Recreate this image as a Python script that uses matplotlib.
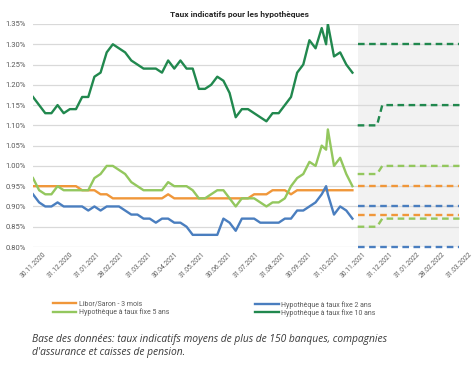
import matplotlib as mpl
mpl.use('Agg')
import matplotlib.pyplot as plt
import matplotlib.dates as mdates
from matplotlib.ticker import FuncFormatter, MultipleLocator
import pandas as pd

# Weekly observations (Mondays) plus one extra point on 30.10.2021
dates = (list(pd.date_range('2020-11-30', periods=48, freq='7D'))
         + [pd.Timestamp('2021-10-30')]
         + list(pd.date_range('2021-11-01', periods=5, freq='7D')))

libor = [0.95, 0.95, 0.95, 0.95, 0.95, 0.95, 0.95, 0.95, 0.94, 0.94,
         0.94, 0.93, 0.93, 0.92, 0.92, 0.92, 0.92, 0.92, 0.92, 0.92,
         0.92, 0.92, 0.93, 0.92, 0.92, 0.92, 0.92, 0.92, 0.92, 0.92,
         0.92, 0.92, 0.92, 0.92, 0.92, 0.92, 0.93, 0.93, 0.93, 0.94,
         0.94, 0.94, 0.93, 0.94, 0.94, 0.94, 0.94, 0.94, 0.94, 0.94,
         0.94, 0.94, 0.94, 0.94]
fix2 = [0.93, 0.91, 0.90, 0.90, 0.91, 0.90, 0.90, 0.90, 0.90, 0.89,
        0.90, 0.89, 0.90, 0.90, 0.90, 0.89, 0.88, 0.88, 0.87, 0.87,
        0.86, 0.87, 0.87, 0.86, 0.86, 0.85, 0.83, 0.83, 0.83, 0.83,
        0.83, 0.87, 0.86, 0.84, 0.87, 0.87, 0.87, 0.86, 0.86, 0.86,
        0.86, 0.87, 0.87, 0.89, 0.89, 0.90, 0.91, 0.93, 0.95, 0.93,
        0.88, 0.90, 0.89, 0.87]
fix5 = [0.97, 0.94, 0.93, 0.93, 0.95, 0.94, 0.94, 0.94, 0.94, 0.94,
        0.97, 0.98, 1.00, 1.00, 0.99, 0.98, 0.96, 0.95, 0.94, 0.94,
        0.94, 0.94, 0.96, 0.95, 0.95, 0.95, 0.94, 0.92, 0.92, 0.93,
        0.94, 0.94, 0.92, 0.90, 0.92, 0.92, 0.92, 0.91, 0.90, 0.91,
        0.91, 0.92, 0.95, 0.97, 0.98, 1.01, 1.00, 1.05, 1.04, 1.09,
        1.00, 1.02, 0.98, 0.95]
fix10 = [1.17, 1.15, 1.13, 1.13, 1.15, 1.13, 1.14, 1.14, 1.17, 1.17,
         1.22, 1.23, 1.28, 1.30, 1.29, 1.28, 1.26, 1.25, 1.24, 1.24,
         1.24, 1.23, 1.26, 1.24, 1.26, 1.24, 1.24, 1.19, 1.19, 1.20,
         1.22, 1.21, 1.18, 1.12, 1.14, 1.14, 1.13, 1.12, 1.11, 1.13,
         1.13, 1.15, 1.17, 1.23, 1.25, 1.31, 1.29, 1.34, 1.30, 1.35,
         1.27, 1.28, 1.25, 1.23]

# Forecast scenarios (dashed, shaded period)
fc_flat = pd.to_datetime(['2021-12-05', '2022-03-31'])
fc_step = pd.to_datetime(['2021-12-05', '2021-12-27', '2022-01-02', '2022-03-31'])
libor_hi, libor_lo = [0.95, 0.95], [0.88, 0.88]
fix2_hi, fix2_lo = [0.90, 0.90], [0.80, 0.80]
fix5_hi, fix5_lo = [0.98, 0.98, 1.00, 1.00], [0.85, 0.85, 0.87, 0.87]
fix10_hi, fix10_lo = [1.30, 1.30], [1.10, 1.10, 1.15, 1.15]

labels = ['Libor/Saron - 3 mois', 'Hypothèque à taux fixe 2 ans',
          'Hypothèque à taux fixe 5 ans', 'Hypothèque à taux fixe 10 ans']
colors = ['#F0973A', '#4A7EBF', '#93C75E', '#21884E']

plt.rcParams['font.family'] = ['Roboto', 'DejaVu Sans']

fig = plt.figure(figsize=(4.74, 3.69), dpi=100)
ax = fig.add_axes([0.0696, 0.3306, 0.8998, 0.6044])

ax.axvspan(pd.Timestamp('2021-12-05'), pd.Timestamp('2022-03-31'),
           color='#F2F2F2', lw=0, zorder=0)

lines = []
for y, c in zip([libor, fix2, fix5, fix10], colors):
    ln, = ax.plot(dates, y, color=c, lw=1.7, zorder=3)
    lines.append(ln)

dash = dict(lw=1.7, dashes=(2.8, 1.9), clip_on=False, zorder=3)
ax.plot(fc_flat, libor_hi, color=colors[0], **dash)
ax.plot(fc_flat, libor_lo, color=colors[0], **dash)
ax.plot(fc_flat, fix2_hi, color=colors[1], **dash)
ax.plot(fc_flat, fix2_lo, color=colors[1], **dash)
ax.plot(fc_step, fix5_hi, color=colors[2], **dash)
ax.plot(fc_step, fix5_lo, color=colors[2], **dash)
ax.plot(fc_flat, fix10_hi, color=colors[3], **dash)
ax.plot(fc_step, fix10_lo, color=colors[3], **dash)

ax.set_xlim(pd.Timestamp('2020-11-30'), pd.Timestamp('2022-03-31'))
ax.set_ylim(0.80, 1.35)
ax.yaxis.set_major_locator(MultipleLocator(0.05))
ax.yaxis.set_major_formatter(FuncFormatter(lambda v, p: f'{v:.2f}%'))
ax.grid(True, axis='y', color='#D9D9D9', lw=0.9, zorder=1)
ax.set_axisbelow(True)
for s in ax.spines.values():
    s.set_visible(False)

month_ends = pd.date_range('2020-11-30', '2022-03-31', freq='ME')
ax.set_xticks(month_ends)
ax.xaxis.set_major_formatter(mdates.DateFormatter('%d.%m.%Y'))
ax.tick_params(axis='x', length=0, pad=3, labelsize=4.8, labelcolor='#595959')
ax.tick_params(axis='y', length=0, pad=5, labelsize=5.5, labelcolor='#595959')
for t in ax.get_xticklabels():
    t.set_rotation(45)
    t.set_ha('center')
    t.set_va('top')

fig.text(0.505, 0.962, 'Taux indicatifs pour les hypothèques', ha='center',
         va='center', fontsize=6, fontweight='bold', color='#262626')

leg_kw = dict(frameon=False, fontsize=5, handlelength=3.4, handletextpad=0.4,
              labelspacing=0.05, labelcolor='#595959', borderaxespad=0)
fig.legend([lines[0], lines[2]], [labels[0], labels[2]], loc='upper left',
           bbox_to_anchor=(0.105, 0.192), **leg_kw)
fig.legend([lines[1], lines[3]], [labels[1], labels[3]], loc='upper left',
           bbox_to_anchor=(0.532, 0.192), **leg_kw)

fig.text(0.068, 0.062, 'Base des données: taux indicatifs moyens de plus de 150 banques, compagnies\n'
         "d'assurance et caisses de pension.", ha='left', va='center',
         fontsize=7.4, style='italic', color='#3A3A3A', linespacing=1.3,
         family=['Open Sans', 'DejaVu Sans'])

fig.savefig('out.png', dpi=100)
